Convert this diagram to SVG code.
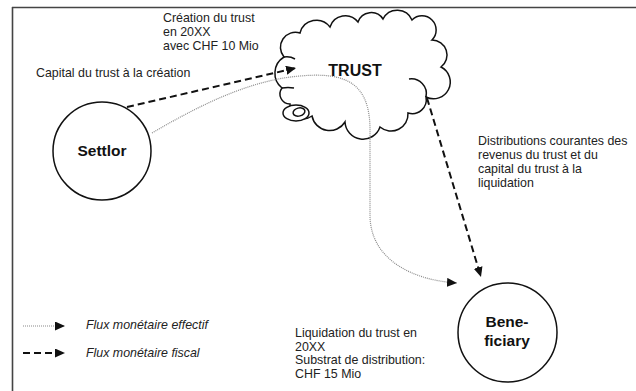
<svg xmlns="http://www.w3.org/2000/svg" width="636" height="391" viewBox="0 0 636 391">
<style>
.t{font-family:"Liberation Sans",Arial,sans-serif;font-size:12.4px;fill:#222}
.b{font-family:"Liberation Sans",Arial,sans-serif;font-size:15.5px;font-weight:bold;fill:#111;text-anchor:middle}
.i{font-style:italic}
.node{fill:#fff;stroke:#111;stroke-width:1.5}
.dash{fill:none;stroke:#111;stroke-width:2;stroke-dasharray:7 4}
.dot{fill:none;stroke:#8a8a8a;stroke-width:1.2;stroke-dasharray:1 1}
</style>
<defs>
<marker id="ah" markerUnits="userSpaceOnUse" markerWidth="12" markerHeight="10" refX="10" refY="4.5" orient="auto">
<path d="M0,0 L10,4.5 L0,9 Z" fill="#111"/>
</marker>
</defs>
<rect width="636" height="391" fill="#fff"/>
<g id="frame" stroke="#444" stroke-width="1.6" fill="none">
<line x1="12" y1="7.5" x2="636" y2="7.5"/>
<line x1="12.5" y1="7" x2="12.5" y2="391"/>
</g>
<g id="trust">
<path class="node" d="M282,88 A19,19 0 0 1 284,57 A15,15 0 0 1 300,33 A17,17 0 0 1 330,27 A16,16 0 0 1 358,22 A14,14 0 0 1 383,19 A16,16 0 0 1 412,20 A14,14 0 0 1 432,40 A15,15 0 0 1 441,67 A16,16 0 0 1 426,97 A14,14 0 0 1 408,113 A17,17 0 0 1 380,127 A18,18 0 0 1 345,122 A18,18 0 0 1 312,116 A14,14 0 0 1 290,104 A10,10 0 0 1 282,88 Z"/>
<path fill="none" stroke="#111" stroke-width="1.5" d="M284,57 Q290,56 295,59 M282,88 Q288,87 294,88 M409,79 A15,15 0 0 1 426,97"/>
<ellipse cx="296" cy="113" rx="13" ry="8" fill="#fff" stroke="#111" stroke-width="1.5"/>
<ellipse cx="299" cy="112" rx="6" ry="4" transform="rotate(-15 299 112)" fill="none" stroke="#111" stroke-width="1.5"/>
<text class="b" x="355" y="76" style="font-size:16px">TRUST</text>
</g>
<g id="settlor">
<circle class="node" cx="102" cy="151" r="49"/>
<text class="b" x="102" y="156">Settlor</text>
</g>
<g id="beneficiary">
<circle class="node" cx="507.5" cy="332.5" r="49.5"/>
<text class="b" x="507" y="327">Bene-</text>
<text class="b" x="507" y="346">ficiary</text>
</g>
<g id="connectors">
<path class="dash" d="M127,107 L296,68" marker-end="url(#ah)"/>
<path class="dot" d="M152,133 C200,105 250,80 300,76 C345,72 370,82 370,130 L370,215 C370,258 410,280 457,283" marker-end="url(#ah)"/>
<path class="dash" d="M427,98 L481,277" marker-end="url(#ah)"/>
</g>
<g id="labels">
<text class="t" x="163" y="22">Création du trust</text>
<text class="t" x="163" y="36">en 20XX</text>
<text class="t" x="163" y="50">avec CHF 10 Mio</text>
<text class="t" x="36" y="77">Capital du trust à la création</text>
<text class="t" x="478" y="145">Distributions courantes des</text>
<text class="t" x="478" y="159">revenus du trust et du</text>
<text class="t" x="478" y="173">capital du trust à la</text>
<text class="t" x="478" y="187">liquidation</text>
<text class="t" x="295" y="337">Liquidation du trust en</text>
<text class="t" x="295" y="350.5">20XX</text>
<text class="t" x="295" y="364">Substrat de distribution:</text>
<text class="t" x="295" y="377.5">CHF 15 Mio</text>
</g>
<g id="legend">
<path class="dot" d="M23,326 L65,326" marker-end="url(#ah)"/>
<path class="dash" d="M23,353 L65,353" stroke-dasharray="6 4" marker-end="url(#ah)"/>
<text class="t i" x="86" y="329">Flux monétaire effectif</text>
<text class="t i" x="86" y="357">Flux monétaire fiscal</text>
</g>
</svg>
